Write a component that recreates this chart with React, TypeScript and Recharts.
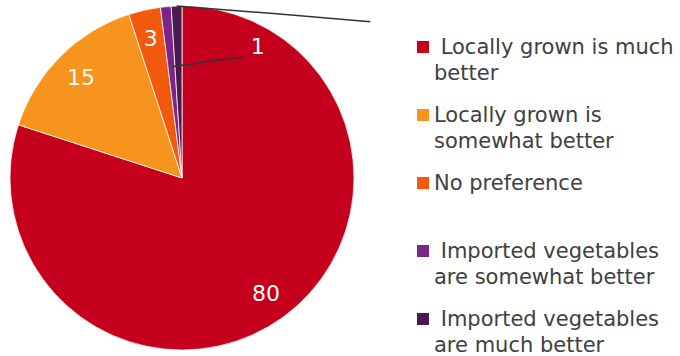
import { PieChart, Pie, Cell, Legend } from 'recharts';

const categories = [
  ' Locally grown is much better',
  'Locally grown is somewhat better',
  'No preference',
  ' Imported vegetables are somewhat better',
  ' Imported vegetables are much better',
];
const shares = [80, 15, 3, 1, 1];
const colors = ['#C4001C', '#F7941E', '#F15A0C', '#7D2488', '#4A1A4E'];

const data = categories.map((name, i) => ({ name, value: shares[i] }));

const RADIAN = Math.PI / 180;
const FONT = 'Verdana, "DejaVu Sans", sans-serif';

function SliceLabel(props: any) {
  const { cx, cy, midAngle, outerRadius, index, value } = props;
  const R = outerRadius;
  const cos = Math.cos(-midAngle * RADIAN);
  const sin = Math.sin(-midAngle * RADIAN);

  if (index <= 2) {
    const r = R * 0.83;
    return (
      <text
        x={cx + r * cos}
        y={cy + r * sin}
        fill="#ffffff"
        fontSize={22}
        fontFamily={FONT}
        textAnchor="middle"
        dominantBaseline="central"
      >
        {value}
      </text>
    );
  }

  if (index === 3) {
    const r = R * 0.65;
    const sx = cx + r * cos;
    const sy = cy + r * sin;
    const ey = cy - R * 0.7;
    return (
      <g>
        <polyline
          points={`${sx},${sy} ${cx + R * 0.32},${ey} ${cx + R * 0.37},${ey}`}
          fill="none"
          stroke="#333333"
          strokeWidth={1.5}
        />
        <text
          x={cx + R * 0.44}
          y={cy - R * 0.765}
          fill="#ffffff"
          fontSize={22}
          fontFamily={FONT}
          textAnchor="middle"
          dominantBaseline="central"
        >
          {value}
        </text>
      </g>
    );
  }

  // last slice: leader line only, its label sits off the plot
  const sx = cx + R * cos;
  const sy = cy + R * sin;
  return (
    <polyline
      points={`${sx},${sy} ${cx + R * 0.55},${cy - R * 0.955} ${cx + R * 1.095},${cy - R * 0.909}`}
      fill="none"
      stroke="#333333"
      strokeWidth={1.5}
    />
  );
}

function LegendList({ payload }: any) {
  const items = [...(payload || [])].sort(
    (a: any, b: any) => categories.indexOf(a.value) - categories.indexOf(b.value)
  );
  return (
    <div style={{ fontFamily: FONT, fontSize: 21, color: '#404040' }}>
      {items.map((entry: any, i: number) => (
        <div key={i} style={{ display: 'flex', height: 68 }}>
          <div
            style={{
              width: 12,
              height: 12,
              marginTop: 7,
              marginRight: 5,
              background: entry.color,
              flexShrink: 0,
            }}
          />
          <div style={{ width: 246, lineHeight: '26px', whiteSpace: 'pre-wrap' }}>{entry.value}</div>
        </div>
      ))}
    </div>
  );
}

export default function App() {
  return (
    <div style={{ position: 'absolute', left: 0, top: 0, width: 680, height: 356, background: '#fff' }}>
      <PieChart width={680} height={356} margin={{ top: 0, right: 0, bottom: 0, left: 0 }}>
        <Pie
          data={data}
          dataKey="value"
          nameKey="name"
          cx={182}
          cy={178}
          outerRadius={172}
          startAngle={90}
          endAngle={-270}
          stroke="#ffffff"
          strokeWidth={0.75}
          label={SliceLabel}
          labelLine={false}
          isAnimationActive={false}
        >
          {data.map((_, i) => (
            <Cell key={i} fill={colors[i]} />
          ))}
        </Pie>
        <Legend
          layout="vertical"
          align="right"
          verticalAlign="top"
          content={LegendList}
          wrapperStyle={{ position: 'absolute', left: 417, top: 34, width: 263 }}
        />
      </PieChart>
    </div>
  );
}
